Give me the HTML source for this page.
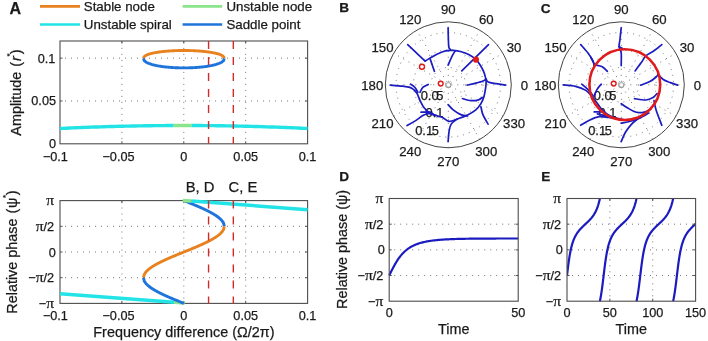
<!DOCTYPE html>
<html><head><meta charset="utf-8"><style>
html,body{margin:0;padding:0;background:#fff;width:708px;height:341px;overflow:hidden;}
svg{display:block;will-change:transform;}
text{fill:#1a1a1a;stroke:#1a1a1a;stroke-width:0.25px;}
</style></head><body>
<svg width="708" height="341" viewBox="0 0 708 341"><line x1="121.9" y1="143.8" x2="121.9" y2="41" stroke="#666666" stroke-width="0.9" stroke-dasharray="1 5" stroke-dashoffset="1.1"/>
<line x1="183.8" y1="143.8" x2="183.8" y2="41" stroke="#666666" stroke-width="0.9" stroke-dasharray="1 5" stroke-dashoffset="1.1"/>
<line x1="245.7" y1="143.8" x2="245.7" y2="41" stroke="#666666" stroke-width="0.9" stroke-dasharray="1 5" stroke-dashoffset="1.1"/>
<line x1="60" y1="100.97" x2="307.6" y2="100.97" stroke="#666666" stroke-width="0.9" stroke-dasharray="1 5" stroke-dashoffset="1"/>
<line x1="60" y1="58.13" x2="307.6" y2="58.13" stroke="#666666" stroke-width="0.9" stroke-dasharray="1 5" stroke-dashoffset="1"/>
<line x1="121.9" y1="303.4" x2="121.9" y2="200.6" stroke="#666666" stroke-width="0.9" stroke-dasharray="1 5" stroke-dashoffset="1.1"/>
<line x1="183.8" y1="303.4" x2="183.8" y2="200.6" stroke="#666666" stroke-width="0.9" stroke-dasharray="1 5" stroke-dashoffset="1.1"/>
<line x1="245.7" y1="303.4" x2="245.7" y2="200.6" stroke="#666666" stroke-width="0.9" stroke-dasharray="1 5" stroke-dashoffset="1.1"/>
<line x1="60" y1="277.7" x2="307.6" y2="277.7" stroke="#666666" stroke-width="0.9" stroke-dasharray="1 5" stroke-dashoffset="1"/>
<line x1="60" y1="252" x2="307.6" y2="252" stroke="#666666" stroke-width="0.9" stroke-dasharray="1 5" stroke-dashoffset="1"/>
<line x1="60" y1="226.3" x2="307.6" y2="226.3" stroke="#666666" stroke-width="0.9" stroke-dasharray="1 5" stroke-dashoffset="1"/>
<rect x="60" y="41" width="247.6" height="102.8" fill="none" stroke="#4d4d4d" stroke-width="1.1"/>
<line x1="121.9" y1="143.8" x2="121.9" y2="141.3" stroke="#4d4d4d" stroke-width="1"/>
<line x1="121.9" y1="41" x2="121.9" y2="43.5" stroke="#4d4d4d" stroke-width="1"/>
<line x1="183.8" y1="143.8" x2="183.8" y2="141.3" stroke="#4d4d4d" stroke-width="1"/>
<line x1="183.8" y1="41" x2="183.8" y2="43.5" stroke="#4d4d4d" stroke-width="1"/>
<line x1="245.7" y1="143.8" x2="245.7" y2="141.3" stroke="#4d4d4d" stroke-width="1"/>
<line x1="245.7" y1="41" x2="245.7" y2="43.5" stroke="#4d4d4d" stroke-width="1"/>
<line x1="60" y1="100.97" x2="62.5" y2="100.97" stroke="#4d4d4d" stroke-width="1"/>
<line x1="307.6" y1="100.97" x2="305.1" y2="100.97" stroke="#4d4d4d" stroke-width="1"/>
<line x1="60" y1="58.13" x2="62.5" y2="58.13" stroke="#4d4d4d" stroke-width="1"/>
<line x1="307.6" y1="58.13" x2="305.1" y2="58.13" stroke="#4d4d4d" stroke-width="1"/>
<rect x="60" y="200.6" width="247.6" height="102.8" fill="none" stroke="#4d4d4d" stroke-width="1.1"/>
<line x1="121.9" y1="303.4" x2="121.9" y2="300.9" stroke="#4d4d4d" stroke-width="1"/>
<line x1="121.9" y1="200.6" x2="121.9" y2="203.1" stroke="#4d4d4d" stroke-width="1"/>
<line x1="183.8" y1="303.4" x2="183.8" y2="300.9" stroke="#4d4d4d" stroke-width="1"/>
<line x1="183.8" y1="200.6" x2="183.8" y2="203.1" stroke="#4d4d4d" stroke-width="1"/>
<line x1="245.7" y1="303.4" x2="245.7" y2="300.9" stroke="#4d4d4d" stroke-width="1"/>
<line x1="245.7" y1="200.6" x2="245.7" y2="203.1" stroke="#4d4d4d" stroke-width="1"/>
<line x1="60" y1="277.7" x2="62.5" y2="277.7" stroke="#4d4d4d" stroke-width="1"/>
<line x1="307.6" y1="277.7" x2="305.1" y2="277.7" stroke="#4d4d4d" stroke-width="1"/>
<line x1="60" y1="252" x2="62.5" y2="252" stroke="#4d4d4d" stroke-width="1"/>
<line x1="307.6" y1="252" x2="305.1" y2="252" stroke="#4d4d4d" stroke-width="1"/>
<line x1="60" y1="226.3" x2="62.5" y2="226.3" stroke="#4d4d4d" stroke-width="1"/>
<line x1="307.6" y1="226.3" x2="305.1" y2="226.3" stroke="#4d4d4d" stroke-width="1"/>
<path d="M60 128.5 L63.13 128.35 L66.27 128.2 L69.4 128.06 L72.54 127.92 L75.67 127.79 L78.81 127.66 L81.94 127.53 L85.07 127.41 L88.21 127.29 L91.34 127.17 L94.48 127.06 L97.61 126.95 L100.74 126.85 L103.88 126.75 L107.01 126.65 L110.15 126.56 L113.28 126.47 L116.42 126.39 L119.55 126.31 L122.68 126.23 L125.82 126.16 L128.95 126.09 L132.09 126.02 L135.22 125.96 L138.35 125.9 L141.49 125.85 L144.62 125.8 L147.76 125.75 L150.89 125.71 L154.03 125.67 L157.16 125.64 L160.29 125.61 L163.43 125.58 L166.56 125.56 L169.7 125.54 L172.83 125.52 L173.7 125.52" fill="none" stroke="#22e4e6" stroke-width="3.4" stroke-linejoin="round" stroke-linecap="butt"/>
<path d="M191.3 125.51 L191.64 125.51 L194.77 125.52 L197.9 125.54 L201.04 125.56 L204.17 125.58 L207.31 125.61 L210.44 125.64 L213.57 125.67 L216.71 125.71 L219.84 125.75 L222.98 125.8 L226.11 125.85 L229.25 125.9 L232.38 125.96 L235.51 126.02 L238.65 126.09 L241.78 126.16 L244.92 126.23 L248.05 126.31 L251.18 126.39 L254.32 126.47 L257.45 126.56 L260.59 126.65 L263.72 126.75 L266.86 126.85 L269.99 126.95 L273.12 127.06 L276.26 127.17 L279.39 127.29 L282.53 127.41 L285.66 127.53 L288.79 127.66 L291.93 127.79 L295.06 127.92 L298.2 128.06 L301.33 128.2 L304.47 128.35 L307.6 128.5" fill="none" stroke="#22e4e6" stroke-width="3.4" stroke-linejoin="round" stroke-linecap="butt"/>
<path d="M173.7 125.52 L175.66 125.51 L177.61 125.51 L179.57 125.5 L181.52 125.5 L183.48 125.5 L185.43 125.5 L187.39 125.5 L189.34 125.51 L191.3 125.51" fill="none" stroke="#8be58b" stroke-width="3.4" stroke-linejoin="round" stroke-linecap="butt"/>
<path d="M143.5 58.4 L144.17 56.7 L144.85 56.08 L145.52 55.63 L146.19 55.26 L146.87 54.94 L147.54 54.66 L148.21 54.41 L148.89 54.17 L149.56 53.96 L150.23 53.77 L150.91 53.58 L151.58 53.41 L152.25 53.25 L152.93 53.1 L153.6 52.95 L154.27 52.82 L154.95 52.69 L155.62 52.57 L156.29 52.45 L156.97 52.34 L157.64 52.23 L158.31 52.13 L158.99 52.03 L159.66 51.94 L160.33 51.85 L161.01 51.76 L161.68 51.68 L162.35 51.6 L163.03 51.53 L163.7 51.46 L164.37 51.39 L165.05 51.33 L165.72 51.26 L166.39 51.21 L167.07 51.15 L167.74 51.1 L168.41 51.05 L169.09 51 L169.76 50.95 L170.43 50.91 L171.11 50.87 L171.78 50.83 L172.45 50.79 L173.13 50.76 L173.8 50.73 L174.47 50.7 L175.15 50.67 L175.82 50.64 L176.49 50.62 L177.17 50.6 L177.84 50.58 L178.51 50.56 L179.19 50.55 L179.86 50.54 L180.53 50.52 L181.21 50.52 L181.88 50.51 L182.55 50.5 L183.23 50.5 L183.9 50.5 L184.57 50.5 L185.25 50.5 L185.92 50.51 L186.59 50.52 L187.27 50.52 L187.94 50.54 L188.61 50.55 L189.29 50.56 L189.96 50.58 L190.63 50.6 L191.31 50.62 L191.98 50.64 L192.65 50.67 L193.33 50.7 L194 50.73 L194.67 50.76 L195.35 50.79 L196.02 50.83 L196.69 50.87 L197.37 50.91 L198.04 50.95 L198.71 51 L199.39 51.05 L200.06 51.1 L200.73 51.15 L201.41 51.21 L202.08 51.26 L202.75 51.33 L203.43 51.39 L204.1 51.46 L204.77 51.53 L205.45 51.6 L206.12 51.68 L206.79 51.76 L207.47 51.85 L208.14 51.94 L208.81 52.03 L209.49 52.13 L210.16 52.23 L210.83 52.34 L211.51 52.45 L212.18 52.57 L212.85 52.69 L213.53 52.82 L214.2 52.95 L214.87 53.1 L215.55 53.25 L216.22 53.41 L216.89 53.58 L217.57 53.77 L218.24 53.96 L218.91 54.17 L219.59 54.41 L220.26 54.66 L220.93 54.94 L221.61 55.26 L222.28 55.63 L222.95 56.08 L223.63 56.7 L224.3 58.4" fill="none" stroke="#e8821e" stroke-width="2.9" stroke-linejoin="round" stroke-linecap="butt"/>
<path d="M143.5 58.4 L144.17 60.45 L144.85 61.19 L145.52 61.73 L146.19 62.18 L146.87 62.56 L147.54 62.9 L148.21 63.2 L148.89 63.48 L149.56 63.74 L150.23 63.97 L150.91 64.19 L151.58 64.4 L152.25 64.59 L152.93 64.78 L153.6 64.95 L154.27 65.11 L154.95 65.27 L155.62 65.42 L156.29 65.56 L156.97 65.69 L157.64 65.82 L158.31 65.94 L158.99 66.06 L159.66 66.17 L160.33 66.28 L161.01 66.38 L161.68 66.48 L162.35 66.57 L163.03 66.66 L163.7 66.75 L164.37 66.83 L165.05 66.91 L165.72 66.98 L166.39 67.05 L167.07 67.12 L167.74 67.18 L168.41 67.24 L169.09 67.3 L169.76 67.36 L170.43 67.41 L171.11 67.46 L171.78 67.51 L172.45 67.55 L173.13 67.59 L173.8 67.63 L174.47 67.66 L175.15 67.7 L175.82 67.73 L176.49 67.75 L177.17 67.78 L177.84 67.8 L178.51 67.82 L179.19 67.84 L179.86 67.86 L180.53 67.87 L181.21 67.88 L181.88 67.89 L182.55 67.9 L183.23 67.9 L183.9 67.9 L184.57 67.9 L185.25 67.9 L185.92 67.89 L186.59 67.88 L187.27 67.87 L187.94 67.86 L188.61 67.84 L189.29 67.82 L189.96 67.8 L190.63 67.78 L191.31 67.75 L191.98 67.73 L192.65 67.7 L193.33 67.66 L194 67.63 L194.67 67.59 L195.35 67.55 L196.02 67.51 L196.69 67.46 L197.37 67.41 L198.04 67.36 L198.71 67.3 L199.39 67.24 L200.06 67.18 L200.73 67.12 L201.41 67.05 L202.08 66.98 L202.75 66.91 L203.43 66.83 L204.1 66.75 L204.77 66.66 L205.45 66.57 L206.12 66.48 L206.79 66.38 L207.47 66.28 L208.14 66.17 L208.81 66.06 L209.49 65.94 L210.16 65.82 L210.83 65.69 L211.51 65.56 L212.18 65.42 L212.85 65.27 L213.53 65.11 L214.2 64.95 L214.87 64.78 L215.55 64.59 L216.22 64.4 L216.89 64.19 L217.57 63.97 L218.24 63.74 L218.91 63.48 L219.59 63.2 L220.26 62.9 L220.93 62.56 L221.61 62.18 L222.28 61.73 L222.95 61.19 L223.63 60.45 L224.3 58.4" fill="none" stroke="#1f74dc" stroke-width="2.9" stroke-linejoin="round" stroke-linecap="butt"/>
<path d="M183.9 200.6 L184.57 200.87 L185.25 201.15 L185.92 201.42 L186.59 201.69 L187.27 201.97 L187.94 202.24 L188.61 202.51 L189.29 202.79 L189.96 203.06 L190.63 203.34 L191.31 203.62 L191.98 203.89 L192.65 204.17 L193.33 204.45 L194 204.73 L194.67 205.02 L195.35 205.3 L196.02 205.59 L196.69 205.87 L197.37 206.16 L198.04 206.45 L198.71 206.74 L199.39 207.04 L200.06 207.33 L200.73 207.63 L201.41 207.93 L202.08 208.24 L202.75 208.54 L203.43 208.85 L204.1 209.17 L204.77 209.48 L205.45 209.8 L206.12 210.13 L206.79 210.46 L207.47 210.79 L208.14 211.13 L208.81 211.47 L209.49 211.82 L210.16 212.18 L210.83 212.54 L211.51 212.91 L212.18 213.29 L212.85 213.67 L213.53 214.07 L214.2 214.48 L214.87 214.89 L215.55 215.33 L216.22 215.77 L216.89 216.23 L217.57 216.72 L218.24 217.22 L218.91 217.75 L219.59 218.32 L220.26 218.92 L220.93 219.57 L221.61 220.29 L222.28 221.1 L222.95 222.06 L223.63 223.31 L224.3 226.3" fill="none" stroke="#1f74dc" stroke-width="2.9" stroke-linejoin="round" stroke-linecap="butt"/>
<path d="M60 293.8 L174.1 302.3" fill="none" stroke="#22e4e6" stroke-width="3.5" stroke-linejoin="round" stroke-linecap="butt"/>
<path d="M191.3 201 L307.6 209.7" fill="none" stroke="#22e4e6" stroke-width="3.5" stroke-linejoin="round" stroke-linecap="butt"/>
<path d="M174.1 302.3 L184.6 302.9" fill="none" stroke="#8be58b" stroke-width="3.5" stroke-linejoin="round" stroke-linecap="butt"/>
<path d="M182.8 200.6 L191.3 201" fill="none" stroke="#8be58b" stroke-width="3.5" stroke-linejoin="round" stroke-linecap="butt"/>
<path d="M143.5 277.7 L144.17 274.71 L144.85 273.46 L145.52 272.5 L146.19 271.69 L146.87 270.97 L147.54 270.32 L148.21 269.72 L148.89 269.15 L149.56 268.62 L150.23 268.12 L150.91 267.63 L151.58 267.17 L152.25 266.73 L152.93 266.29 L153.6 265.88 L154.27 265.47 L154.95 265.07 L155.62 264.69 L156.29 264.31 L156.97 263.94 L157.64 263.58 L158.31 263.22 L158.99 262.87 L159.66 262.53 L160.33 262.19 L161.01 261.86 L161.68 261.53 L162.35 261.2 L163.03 260.88 L163.7 260.57 L164.37 260.25 L165.05 259.94 L165.72 259.64 L166.39 259.33 L167.07 259.03 L167.74 258.73 L168.41 258.44 L169.09 258.14 L169.76 257.85 L170.43 257.56 L171.11 257.27 L171.78 256.99 L172.45 256.7 L173.13 256.42 L173.8 256.13 L174.47 255.85 L175.15 255.57 L175.82 255.29 L176.49 255.02 L177.17 254.74 L177.84 254.46 L178.51 254.19 L179.19 253.91 L179.86 253.64 L180.53 253.37 L181.21 253.09 L181.88 252.82 L182.55 252.55 L183.23 252.27 L183.9 252 L184.57 251.73 L185.25 251.45 L185.92 251.18 L186.59 250.91 L187.27 250.63 L187.94 250.36 L188.61 250.09 L189.29 249.81 L189.96 249.54 L190.63 249.26 L191.31 248.98 L191.98 248.71 L192.65 248.43 L193.33 248.15 L194 247.87 L194.67 247.58 L195.35 247.3 L196.02 247.01 L196.69 246.73 L197.37 246.44 L198.04 246.15 L198.71 245.86 L199.39 245.56 L200.06 245.27 L200.73 244.97 L201.41 244.67 L202.08 244.36 L202.75 244.06 L203.43 243.75 L204.1 243.43 L204.77 243.12 L205.45 242.8 L206.12 242.47 L206.79 242.14 L207.47 241.81 L208.14 241.47 L208.81 241.13 L209.49 240.78 L210.16 240.42 L210.83 240.06 L211.51 239.69 L212.18 239.31 L212.85 238.93 L213.53 238.53 L214.2 238.12 L214.87 237.71 L215.55 237.27 L216.22 236.83 L216.89 236.37 L217.57 235.88 L218.24 235.38 L218.91 234.85 L219.59 234.28 L220.26 233.68 L220.93 233.03 L221.61 232.31 L222.28 231.5 L222.95 230.54 L223.63 229.29 L224.3 226.3" fill="none" stroke="#e8821e" stroke-width="2.9" stroke-linejoin="round" stroke-linecap="butt"/>
<path d="M143.5 277.7 L144.17 280.69 L144.85 281.94 L145.52 282.9 L146.19 283.71 L146.87 284.43 L147.54 285.08 L148.21 285.68 L148.89 286.25 L149.56 286.78 L150.23 287.28 L150.91 287.77 L151.58 288.23 L152.25 288.67 L152.93 289.11 L153.6 289.52 L154.27 289.93 L154.95 290.33 L155.62 290.71 L156.29 291.09 L156.97 291.46 L157.64 291.82 L158.31 292.18 L158.99 292.53 L159.66 292.87 L160.33 293.21 L161.01 293.54 L161.68 293.87 L162.35 294.2 L163.03 294.52 L163.7 294.83 L164.37 295.15 L165.05 295.46 L165.72 295.76 L166.39 296.07 L167.07 296.37 L167.74 296.67 L168.41 296.96 L169.09 297.26 L169.76 297.55 L170.43 297.84 L171.11 298.13 L171.78 298.41 L172.45 298.7 L173.13 298.98 L173.8 299.27 L174.47 299.55 L175.15 299.83 L175.82 300.11 L176.49 300.38 L177.17 300.66 L177.84 300.94 L178.51 301.21 L179.19 301.49 L179.86 301.76 L180.53 302.03 L181.21 302.31 L181.88 302.58 L182.55 302.85 L183.23 303.13 L183.9 303.4" fill="none" stroke="#1f74dc" stroke-width="2.9" stroke-linejoin="round" stroke-linecap="butt"/>
<line x1="208.56" y1="41" x2="208.56" y2="143.8" stroke="#d42a2a" stroke-width="1.4" stroke-dasharray="8 8"/>
<line x1="208.56" y1="200.6" x2="208.56" y2="303.4" stroke="#d42a2a" stroke-width="1.4" stroke-dasharray="8 8"/>
<line x1="233.32" y1="41" x2="233.32" y2="143.8" stroke="#d42a2a" stroke-width="1.4" stroke-dasharray="8 8"/>
<line x1="233.32" y1="200.6" x2="233.32" y2="303.4" stroke="#d42a2a" stroke-width="1.4" stroke-dasharray="8 8"/>
<text x="55.4" y="160.5" font-size="12.7" text-anchor="middle" font-weight="normal" font-family='"Liberation Sans", sans-serif' >&#8722;0.1</text>
<text x="55.4" y="319.8" font-size="12.7" text-anchor="middle" font-weight="normal" font-family='"Liberation Sans", sans-serif' >&#8722;0.1</text>
<text x="118.5" y="160.5" font-size="12.7" text-anchor="middle" font-weight="normal" font-family='"Liberation Sans", sans-serif' >&#8722;0.05</text>
<text x="118.5" y="319.8" font-size="12.7" text-anchor="middle" font-weight="normal" font-family='"Liberation Sans", sans-serif' >&#8722;0.05</text>
<text x="183.8" y="160.5" font-size="12.7" text-anchor="middle" font-weight="normal" font-family='"Liberation Sans", sans-serif' >0</text>
<text x="183.8" y="319.8" font-size="12.7" text-anchor="middle" font-weight="normal" font-family='"Liberation Sans", sans-serif' >0</text>
<text x="245.7" y="160.5" font-size="12.7" text-anchor="middle" font-weight="normal" font-family='"Liberation Sans", sans-serif' >0.05</text>
<text x="245.7" y="319.8" font-size="12.7" text-anchor="middle" font-weight="normal" font-family='"Liberation Sans", sans-serif' >0.05</text>
<text x="307.6" y="160.5" font-size="12.7" text-anchor="middle" font-weight="normal" font-family='"Liberation Sans", sans-serif' >0.1</text>
<text x="307.6" y="319.8" font-size="12.7" text-anchor="middle" font-weight="normal" font-family='"Liberation Sans", sans-serif' >0.1</text>
<text x="55.4" y="62.63" font-size="12.7" text-anchor="end" font-weight="normal" font-family='"Liberation Sans", sans-serif' >0.1</text>
<text x="56" y="105.47" font-size="12.7" text-anchor="end" font-weight="normal" font-family='"Liberation Sans", sans-serif' >0.05</text>
<text x="56" y="148.3" font-size="12.7" text-anchor="end" font-weight="normal" font-family='"Liberation Sans", sans-serif' >0</text>
<text x="54.1" y="205.1" font-size="12.7" text-anchor="end" font-family='"Liberation Sans", sans-serif'><tspan font-family='"Liberation Serif", serif' font-size="15.5">&#960;</tspan></text>
<text x="54.1" y="230.8" font-size="12.7" text-anchor="end" font-family='"Liberation Sans", sans-serif'><tspan font-family='"Liberation Serif", serif' font-size="15.5">&#960;</tspan>/2</text>
<text x="55.7" y="256.5" font-size="12.7" text-anchor="end" font-family='"Liberation Sans", sans-serif'>0</text>
<text x="54.1" y="282.2" font-size="12.7" text-anchor="end" font-family='"Liberation Sans", sans-serif'>&#8722;<tspan font-family='"Liberation Serif", serif' font-size="15.5">&#960;</tspan>/2</text>
<text x="54.1" y="307.9" font-size="12.7" text-anchor="end" font-family='"Liberation Sans", sans-serif'>&#8722;<tspan font-family='"Liberation Serif", serif' font-size="15.5">&#960;</tspan></text>
<text x="183.9" y="336.5" font-size="14.4" text-anchor="middle" font-weight="normal" font-family='"Liberation Sans", sans-serif' >Frequency difference (&#937;/2&#960;)</text>
<text transform="translate(21.2,92.6) rotate(-90)" font-size="14.4" text-anchor="middle" font-family='"Liberation Sans", sans-serif'>Amplitude <tspan dx="1">(</tspan><tspan dx="0.8" font-style="italic">r</tspan><tspan dy="-9" dx="-0.3" font-size="8">*</tspan><tspan dy="9" dx="-0.8">)</tspan></text>
<text transform="translate(17.1,252.1) rotate(-90)" font-size="14.4" text-anchor="middle" font-family='"Liberation Sans", sans-serif'>Relative phase <tspan dx="1">(</tspan><tspan dx="0.8">&#968;</tspan><tspan dy="-9" dx="-0.3" font-size="8">*</tspan><tspan dy="9" dx="-0.5">)</tspan></text>
<text x="185.7" y="191.6" font-size="14.8" text-anchor="start" font-weight="normal" font-family='"Liberation Sans", sans-serif' >B, D</text>
<text x="228.5" y="191.6" font-size="14.8" text-anchor="start" font-weight="normal" font-family='"Liberation Sans", sans-serif' >C, E</text>
<path d="M40 6.3 L80 6.3" fill="none" stroke="#e8821e" stroke-width="2.7" stroke-linejoin="round" stroke-linecap="butt"/>
<path d="M40 24.5 L80 24.5" fill="none" stroke="#22e4e6" stroke-width="2.7" stroke-linejoin="round" stroke-linecap="butt"/>
<text x="83.8" y="10.7" font-size="13.3" text-anchor="start" font-weight="normal" font-family='"Liberation Sans", sans-serif' >Stable node</text>
<text x="83.8" y="29" font-size="13.3" text-anchor="start" font-weight="normal" font-family='"Liberation Sans", sans-serif' >Unstable spiral</text>
<path d="M182.6 6.3 L222.2 6.3" fill="none" stroke="#8be58b" stroke-width="2.7" stroke-linejoin="round" stroke-linecap="butt"/>
<path d="M182.6 24.5 L222.2 24.5" fill="none" stroke="#1f74dc" stroke-width="2.7" stroke-linejoin="round" stroke-linecap="butt"/>
<text x="226.4" y="10.7" font-size="13.3" text-anchor="start" font-weight="normal" font-family='"Liberation Sans", sans-serif' >Unstable node</text>
<text x="226.4" y="29" font-size="13.3" text-anchor="start" font-weight="normal" font-family='"Liberation Sans", sans-serif' >Saddle point</text>
<text x="9.5" y="13.8" font-size="16" text-anchor="start" font-weight="bold" font-family='"Liberation Sans", sans-serif' >A</text>
<text x="339.3" y="12.4" font-size="13.6" text-anchor="start" font-weight="bold" font-family='"Liberation Sans", sans-serif' >B</text>
<text x="540.8" y="12.6" font-size="13.6" text-anchor="start" font-weight="bold" font-family='"Liberation Sans", sans-serif' >C</text>
<text x="339.3" y="181" font-size="13.6" text-anchor="start" font-weight="bold" font-family='"Liberation Sans", sans-serif' >D</text>
<text x="541.3" y="181.2" font-size="13.6" text-anchor="start" font-weight="bold" font-family='"Liberation Sans", sans-serif' >E</text>
<circle cx="448.3" cy="84.8" r="17.4" fill="none" stroke="#666666" stroke-width="0.9" stroke-dasharray="1 5"/>
<circle cx="448.3" cy="84.8" r="34.9" fill="none" stroke="#666666" stroke-width="0.9" stroke-dasharray="1 5"/>
<circle cx="448.3" cy="84.8" r="52.3" fill="none" stroke="#666666" stroke-width="0.9" stroke-dasharray="1 5"/>
<line x1="385.3" y1="84.8" x2="511.3" y2="84.8" stroke="#666666" stroke-width="0.9" stroke-dasharray="1 5"/>
<line x1="393.74" y1="116.3" x2="502.86" y2="53.3" stroke="#666666" stroke-width="0.9" stroke-dasharray="1 5"/>
<line x1="416.8" y1="139.36" x2="479.8" y2="30.24" stroke="#666666" stroke-width="0.9" stroke-dasharray="1 5"/>
<line x1="448.3" y1="147.8" x2="448.3" y2="21.8" stroke="#666666" stroke-width="0.9" stroke-dasharray="1 5"/>
<line x1="479.8" y1="139.36" x2="416.8" y2="30.24" stroke="#666666" stroke-width="0.9" stroke-dasharray="1 5"/>
<line x1="502.86" y1="116.3" x2="393.74" y2="53.3" stroke="#666666" stroke-width="0.9" stroke-dasharray="1 5"/>
<text x="443.5" y="100" font-size="12.9" text-anchor="end" font-weight="normal" font-family='"Liberation Sans", sans-serif' >0.0<tspan dx="-2.3">5</tspan></text>
<text x="443.5" y="117.2" font-size="12.9" text-anchor="end" font-weight="normal" font-family='"Liberation Sans", sans-serif' >0.1</text>
<text x="438.8" y="134.9" font-size="12.9" text-anchor="end" font-weight="normal" font-family='"Liberation Sans", sans-serif' >0.1<tspan dx="-1.5">5</tspan></text>
<circle cx="621.3" cy="84.8" r="17.4" fill="none" stroke="#666666" stroke-width="0.9" stroke-dasharray="1 5"/>
<circle cx="621.3" cy="84.8" r="34.9" fill="none" stroke="#666666" stroke-width="0.9" stroke-dasharray="1 5"/>
<circle cx="621.3" cy="84.8" r="52.3" fill="none" stroke="#666666" stroke-width="0.9" stroke-dasharray="1 5"/>
<line x1="558.3" y1="84.8" x2="684.3" y2="84.8" stroke="#666666" stroke-width="0.9" stroke-dasharray="1 5"/>
<line x1="566.74" y1="116.3" x2="675.86" y2="53.3" stroke="#666666" stroke-width="0.9" stroke-dasharray="1 5"/>
<line x1="589.8" y1="139.36" x2="652.8" y2="30.24" stroke="#666666" stroke-width="0.9" stroke-dasharray="1 5"/>
<line x1="621.3" y1="147.8" x2="621.3" y2="21.8" stroke="#666666" stroke-width="0.9" stroke-dasharray="1 5"/>
<line x1="652.8" y1="139.36" x2="589.8" y2="30.24" stroke="#666666" stroke-width="0.9" stroke-dasharray="1 5"/>
<line x1="675.86" y1="116.3" x2="566.74" y2="53.3" stroke="#666666" stroke-width="0.9" stroke-dasharray="1 5"/>
<text x="616.5" y="100" font-size="12.9" text-anchor="end" font-weight="normal" font-family='"Liberation Sans", sans-serif' >0.0<tspan dx="-2.3">5</tspan></text>
<text x="616.5" y="117.2" font-size="12.9" text-anchor="end" font-weight="normal" font-family='"Liberation Sans", sans-serif' >0.1</text>
<text x="611.8" y="134.9" font-size="12.9" text-anchor="end" font-weight="normal" font-family='"Liberation Sans", sans-serif' >0.1<tspan dx="-1.5">5</tspan></text>
<path d="M407.7 44.6 L425.1 61.1" fill="none" stroke="#1b1bc0" stroke-width="1.7" stroke-linejoin="round" stroke-linecap="round"/>
<path d="M425.1 61.1 C425.95 60.58 428.15 59.2 430.2 58 C432.25 56.8 434.83 55.1 437.4 53.9 C439.97 52.7 442.97 51.38 445.6 50.8 C448.23 50.22 450.57 50.23 453.2 50.4 C455.83 50.57 458.67 51.05 461.4 51.8 C464.13 52.55 467.2 53.63 469.6 54.9 C472 56.17 473.92 57.52 475.8 59.4 C477.68 61.28 479.47 63.87 480.9 66.2 C482.33 68.53 483.53 70.83 484.4 73.4 C485.27 75.97 485.9 79.13 486.1 81.6 C486.3 84.07 485.95 85.73 485.6 88.2 C485.25 90.67 484.78 93.83 484 96.4 C483.22 98.97 482.27 101.37 480.9 103.6 C479.53 105.83 478.02 107.92 475.8 109.8 C473.58 111.68 470.68 113.37 467.6 114.9 C464.52 116.43 460.38 117.93 457.3 119 C454.22 120.07 451.73 121.63 449.1 121.3 C446.47 120.97 444.47 118.23 441.5 117 C438.53 115.77 434.2 115.45 431.3 113.9 C428.4 112.35 425.98 109.93 424.1 107.7 C422.22 105.47 421.2 102.9 420 100.5 C418.8 98.1 418.27 95.35 416.9 93.3 C415.53 91.25 414.2 89.38 411.8 88.2 C409.4 87.02 406.1 86.72 402.5 86.2 C398.9 85.68 392.25 85.28 390.2 85.1" fill="none" stroke="#1b1bc0" stroke-width="1.7" stroke-linejoin="round" stroke-linecap="round"/>
<path d="M430.2 59 C430.55 60.03 431.6 63.15 432.3 65.2 C433 67.25 434.05 70.28 434.4 71.3" fill="none" stroke="#1b1bc0" stroke-width="1.7" stroke-linejoin="round" stroke-linecap="round"/>
<path d="M448.1 27.8 C448.15 29.83 448.27 36.72 448.4 40 C448.53 43.28 448.55 45.92 448.9 47.5 C449.25 49.08 450.23 49.17 450.5 49.5" fill="none" stroke="#1b1bc0" stroke-width="1.7" stroke-linejoin="round" stroke-linecap="round"/>
<path d="M455.3 50.8 C454.78 51.65 453.4 53.5 452.2 55.9 C451 58.3 448.78 63.65 448.1 65.2" fill="none" stroke="#1b1bc0" stroke-width="1.7" stroke-linejoin="round" stroke-linecap="round"/>
<path d="M488.5 44.6 L461.8 70.9" fill="none" stroke="#1b1bc0" stroke-width="1.7" stroke-linejoin="round" stroke-linecap="round"/>
<path d="M467.2 85.1 C468.63 84.77 473.17 83.78 475.8 83.1 C478.43 82.42 481.28 81.68 483 81 C484.72 80.32 485.58 79.33 486.1 79" fill="none" stroke="#1b1bc0" stroke-width="1.7" stroke-linejoin="round" stroke-linecap="round"/>
<path d="M486.1 79 C486.43 79.5 486.4 81.22 488.1 82 C489.8 82.78 493.38 83.18 496.3 83.7 C499.22 84.22 504.05 84.87 505.6 85.1" fill="none" stroke="#1b1bc0" stroke-width="1.7" stroke-linejoin="round" stroke-linecap="round"/>
<path d="M462.5 98.5 C463.68 98.83 467.05 100.23 469.6 100.5 C472.15 100.77 475.65 100.6 477.8 100.1 C479.95 99.6 481.72 97.93 482.5 97.5" fill="none" stroke="#1b1bc0" stroke-width="1.7" stroke-linejoin="round" stroke-linecap="round"/>
<path d="M448.1 104.6 C448.95 105.47 450.98 108.08 453.2 109.8 C455.42 111.52 459 113.87 461.4 114.9 C463.8 115.93 466.57 115.82 467.6 116" fill="none" stroke="#1b1bc0" stroke-width="1.7" stroke-linejoin="round" stroke-linecap="round"/>
<path d="M480.9 106.7 C481.25 108.07 481.8 112 483 114.9 C484.2 117.8 487.25 122.57 488.1 124.1" fill="none" stroke="#1b1bc0" stroke-width="1.7" stroke-linejoin="round" stroke-linecap="round"/>
<path d="M457.3 119 C456.28 119.85 452.57 122.05 451.2 124.1 C449.83 126.15 449.62 128.38 449.1 131.3 C448.58 134.22 448.27 139.88 448.1 141.6" fill="none" stroke="#1b1bc0" stroke-width="1.7" stroke-linejoin="round" stroke-linecap="round"/>
<path d="M410.7 84.1 C411.38 84.62 413.6 85.83 414.8 87.2 C416 88.57 417.38 91.45 417.9 92.3" fill="none" stroke="#1b1bc0" stroke-width="1.7" stroke-linejoin="round" stroke-linecap="round"/>
<path d="M428.2 84.5 C427.35 84.95 424.47 85.9 423.1 87.2 C421.73 88.5 420.52 91.45 420 92.3" fill="none" stroke="#1b1bc0" stroke-width="1.7" stroke-linejoin="round" stroke-linecap="round"/>
<path d="M407 125.6 C408.3 124.85 412.08 122.82 414.8 121.1 C417.52 119.38 421.1 116.55 423.3 115.3 C425.5 114.05 426.38 113.85 428 113.6 C429.62 113.35 432.17 113.77 433 113.8" fill="none" stroke="#1b1bc0" stroke-width="1.7" stroke-linejoin="round" stroke-linecap="round"/>
<path d="M421 112.2 L430.5 112.2" fill="none" stroke="#1b1bc0" stroke-width="1.7" stroke-linejoin="round" stroke-linecap="round"/>
<path d="M426 110.8 C426.83 111.25 429.33 112.73 431 113.5 C432.67 114.27 435.17 115.08 436 115.4" fill="none" stroke="#1b1bc0" stroke-width="1.7" stroke-linejoin="round" stroke-linecap="round"/>
<path d="M580.7 44.6 C581.88 45.97 585.75 50.05 587.8 52.8 C589.85 55.55 591.9 58.87 593 61.1 C594.1 63.33 594.17 65.35 594.4 66.2" fill="none" stroke="#1b1bc0" stroke-width="1.7" stroke-linejoin="round" stroke-linecap="round"/>
<path d="M590.9 57.5 C591.33 58.33 592.92 61.05 593.5 62.5 C594.08 63.95 594.25 65.58 594.4 66.2" fill="none" stroke="#1b1bc0" stroke-width="1.7" stroke-linejoin="round" stroke-linecap="round"/>
<path d="M596.1 65.2 C597.12 65.47 600.32 65.78 602.2 66.8 C604.08 67.82 606.53 70.55 607.4 71.3" fill="none" stroke="#1b1bc0" stroke-width="1.7" stroke-linejoin="round" stroke-linecap="round"/>
<path d="M621.2 27.8 C620.98 29.83 620.25 36.85 619.9 40 C619.55 43.15 618.88 44.57 619.1 46.7 C619.32 48.83 620.85 49.65 621.2 52.8 C621.55 55.95 621.2 63.47 621.2 65.6" fill="none" stroke="#1b1bc0" stroke-width="1.7" stroke-linejoin="round" stroke-linecap="round"/>
<path d="M619.1 46.7 L622.5 48.5" fill="none" stroke="#1b1bc0" stroke-width="1.7" stroke-linejoin="round" stroke-linecap="round"/>
<path d="M661.8 44.6 C660.5 45.63 656.67 48.92 654 50.8 C651.33 52.68 647.85 54.02 645.8 55.9 C643.75 57.78 643.48 59.6 641.7 62.1 C639.92 64.6 636.2 69.43 635.1 70.9" fill="none" stroke="#1b1bc0" stroke-width="1.7" stroke-linejoin="round" stroke-linecap="round"/>
<path d="M640.7 85.1 C642.23 84.52 647.33 82.95 649.9 81.6 C652.47 80.25 654.73 78.2 656.1 77 C657.47 75.8 657.77 74.83 658.1 74.4" fill="none" stroke="#1b1bc0" stroke-width="1.7" stroke-linejoin="round" stroke-linecap="round"/>
<path d="M658.1 74.4 C658.95 75.25 661.15 78.13 663.2 79.5 C665.25 80.87 668 81.67 670.4 82.6 C672.8 83.53 676.4 84.68 677.6 85.1" fill="none" stroke="#1b1bc0" stroke-width="1.7" stroke-linejoin="round" stroke-linecap="round"/>
<path d="M634.5 98.6 C636.38 98.83 642.72 100.17 645.8 100 C648.88 99.83 651.12 98.68 653 97.6 C654.88 96.52 656.42 94.18 657.1 93.5" fill="none" stroke="#1b1bc0" stroke-width="1.7" stroke-linejoin="round" stroke-linecap="round"/>
<path d="M621.2 103.7 C622.22 104.38 624.92 106.42 627.3 107.8 C629.68 109.18 632.77 111.23 635.5 112 C638.23 112.77 641.13 112.92 643.7 112.4 C646.27 111.88 649.7 109.48 650.9 108.9" fill="none" stroke="#1b1bc0" stroke-width="1.7" stroke-linejoin="round" stroke-linecap="round"/>
<path d="M654 100.7 C654.35 102.23 654.8 105.8 656.1 109.9 C657.4 114 660.85 122.73 661.8 125.3" fill="none" stroke="#1b1bc0" stroke-width="1.7" stroke-linejoin="round" stroke-linecap="round"/>
<path d="M621.2 123.2 C622.73 122.87 627.33 122.05 630.4 121.2 C633.47 120.35 636.52 119.47 639.6 118.1 C642.68 116.73 647.35 113.85 648.9 113" fill="none" stroke="#1b1bc0" stroke-width="1.7" stroke-linejoin="round" stroke-linecap="round"/>
<path d="M621.2 141.7 C621.88 140.17 623.6 135.4 625.3 132.5 C627 129.6 629.35 126.53 631.4 124.3 C633.45 122.07 636.57 119.97 637.6 119.1" fill="none" stroke="#1b1bc0" stroke-width="1.7" stroke-linejoin="round" stroke-linecap="round"/>
<path d="M563.2 84.9 C565.25 85.13 571.73 85.38 575.5 86.3 C579.27 87.22 583.05 88.68 585.8 90.4 C588.55 92.12 590.28 94.72 592 96.6 C593.72 98.48 594.4 99.48 596.1 101.7 C597.8 103.92 599.82 107.5 602.2 109.9 C604.58 112.3 607.32 114.57 610.4 116.1 C613.48 117.63 618.1 118.42 620.7 119.1 C623.3 119.78 625.12 120.02 626 120.2" fill="none" stroke="#1b1bc0" stroke-width="1.7" stroke-linejoin="round" stroke-linecap="round"/>
<path d="M581.7 84.2 C582.72 85.07 585.92 87.52 587.8 89.4 C589.68 91.28 592.13 94.48 593 95.5" fill="none" stroke="#1b1bc0" stroke-width="1.7" stroke-linejoin="round" stroke-linecap="round"/>
<path d="M601.2 84.2 C600.52 85.07 598.3 87.33 597.1 89.4 C595.9 91.47 594.52 95.4 594 96.6" fill="none" stroke="#1b1bc0" stroke-width="1.7" stroke-linejoin="round" stroke-linecap="round"/>
<path d="M580.7 125.3 C582.07 124.52 585.85 122.03 588.9 120.6 C591.95 119.17 595.75 117.23 599 116.7 C602.25 116.17 605.47 117.08 608.4 117.4 C611.33 117.72 615.23 118.4 616.6 118.6" fill="none" stroke="#1b1bc0" stroke-width="1.7" stroke-linejoin="round" stroke-linecap="round"/>
<path d="M594.2 111.9 L601.5 111.9" fill="none" stroke="#1b1bc0" stroke-width="1.7" stroke-linejoin="round" stroke-linecap="round"/>
<path d="M597.3 113.8 L605.8 115.9" fill="none" stroke="#1b1bc0" stroke-width="1.7" stroke-linejoin="round" stroke-linecap="round"/>
<circle cx="624.8" cy="84.6" r="35.4" fill="none" stroke="#e01b1b" stroke-width="2.6"/>
<circle cx="448.3" cy="85.2" r="2.6" fill="none" stroke="#9a9a9a" stroke-width="1"/>
<circle cx="440.7" cy="83.6" r="2.4" fill="none" stroke="#e01b1b" stroke-width="1.4"/>
<circle cx="621.3" cy="85.2" r="2.6" fill="none" stroke="#9a9a9a" stroke-width="1"/>
<circle cx="613.7" cy="83.6" r="2.4" fill="none" stroke="#e01b1b" stroke-width="1.4"/>
<circle cx="422" cy="66.8" r="2.5" fill="none" stroke="#e01b1b" stroke-width="1.4"/>
<circle cx="475.9" cy="59.6" r="3.1" fill="#e01b1b"/>
<circle cx="448.3" cy="84.8" r="63.0" fill="none" stroke="#444" stroke-width="1"/>
<text x="524.3" y="90.1" font-size="13.2" text-anchor="middle" font-weight="normal" font-family='"Liberation Sans", sans-serif' >0</text>
<text x="514.12" y="52.1" font-size="13.2" text-anchor="middle" font-weight="normal" font-family='"Liberation Sans", sans-serif' >30</text>
<text x="486.3" y="24.28" font-size="13.2" text-anchor="middle" font-weight="normal" font-family='"Liberation Sans", sans-serif' >60</text>
<text x="448.3" y="14.1" font-size="13.2" text-anchor="middle" font-weight="normal" font-family='"Liberation Sans", sans-serif' >90</text>
<text x="410.3" y="24.28" font-size="13.2" text-anchor="middle" font-weight="normal" font-family='"Liberation Sans", sans-serif' >120</text>
<text x="382.48" y="52.1" font-size="13.2" text-anchor="middle" font-weight="normal" font-family='"Liberation Sans", sans-serif' >150</text>
<text x="372.3" y="90.1" font-size="13.2" text-anchor="middle" font-weight="normal" font-family='"Liberation Sans", sans-serif' >180</text>
<text x="382.48" y="128.1" font-size="13.2" text-anchor="middle" font-weight="normal" font-family='"Liberation Sans", sans-serif' >210</text>
<text x="410.3" y="155.92" font-size="13.2" text-anchor="middle" font-weight="normal" font-family='"Liberation Sans", sans-serif' >240</text>
<text x="448.3" y="166.1" font-size="13.2" text-anchor="middle" font-weight="normal" font-family='"Liberation Sans", sans-serif' >270</text>
<text x="486.3" y="155.92" font-size="13.2" text-anchor="middle" font-weight="normal" font-family='"Liberation Sans", sans-serif' >300</text>
<text x="514.12" y="128.1" font-size="13.2" text-anchor="middle" font-weight="normal" font-family='"Liberation Sans", sans-serif' >330</text>
<circle cx="621.3" cy="84.8" r="63.0" fill="none" stroke="#444" stroke-width="1"/>
<text x="697.3" y="90.1" font-size="13.2" text-anchor="middle" font-weight="normal" font-family='"Liberation Sans", sans-serif' >0</text>
<text x="687.12" y="52.1" font-size="13.2" text-anchor="middle" font-weight="normal" font-family='"Liberation Sans", sans-serif' >30</text>
<text x="659.3" y="24.28" font-size="13.2" text-anchor="middle" font-weight="normal" font-family='"Liberation Sans", sans-serif' >60</text>
<text x="621.3" y="14.1" font-size="13.2" text-anchor="middle" font-weight="normal" font-family='"Liberation Sans", sans-serif' >90</text>
<text x="583.3" y="24.28" font-size="13.2" text-anchor="middle" font-weight="normal" font-family='"Liberation Sans", sans-serif' >120</text>
<text x="555.48" y="52.1" font-size="13.2" text-anchor="middle" font-weight="normal" font-family='"Liberation Sans", sans-serif' >150</text>
<text x="545.3" y="90.1" font-size="13.2" text-anchor="middle" font-weight="normal" font-family='"Liberation Sans", sans-serif' >180</text>
<text x="555.48" y="128.1" font-size="13.2" text-anchor="middle" font-weight="normal" font-family='"Liberation Sans", sans-serif' >210</text>
<text x="583.3" y="155.92" font-size="13.2" text-anchor="middle" font-weight="normal" font-family='"Liberation Sans", sans-serif' >240</text>
<text x="621.3" y="166.1" font-size="13.2" text-anchor="middle" font-weight="normal" font-family='"Liberation Sans", sans-serif' >270</text>
<text x="659.3" y="155.92" font-size="13.2" text-anchor="middle" font-weight="normal" font-family='"Liberation Sans", sans-serif' >300</text>
<text x="687.12" y="128.1" font-size="13.2" text-anchor="middle" font-weight="normal" font-family='"Liberation Sans", sans-serif' >330</text>
<line x1="389.2" y1="275.52" x2="518.2" y2="275.52" stroke="#666666" stroke-width="0.9" stroke-dasharray="1 5" stroke-dashoffset="1"/>
<line x1="389.2" y1="249.85" x2="518.2" y2="249.85" stroke="#666666" stroke-width="0.9" stroke-dasharray="1 5" stroke-dashoffset="1"/>
<line x1="389.2" y1="224.18" x2="518.2" y2="224.18" stroke="#666666" stroke-width="0.9" stroke-dasharray="1 5" stroke-dashoffset="1"/>
<line x1="609.87" y1="301.2" x2="609.87" y2="198.5" stroke="#666666" stroke-width="0.9" stroke-dasharray="1 5" stroke-dashoffset="1.1"/>
<line x1="652.73" y1="301.2" x2="652.73" y2="198.5" stroke="#666666" stroke-width="0.9" stroke-dasharray="1 5" stroke-dashoffset="1.1"/>
<line x1="567" y1="275.52" x2="695.6" y2="275.52" stroke="#666666" stroke-width="0.9" stroke-dasharray="1 5" stroke-dashoffset="1"/>
<line x1="567" y1="249.85" x2="695.6" y2="249.85" stroke="#666666" stroke-width="0.9" stroke-dasharray="1 5" stroke-dashoffset="1"/>
<line x1="567" y1="224.18" x2="695.6" y2="224.18" stroke="#666666" stroke-width="0.9" stroke-dasharray="1 5" stroke-dashoffset="1"/>
<path d="M389.2 275.52 L390.06 273.77 L390.92 272.04 L391.78 270.32 L392.64 268.64 L393.5 267.01 L394.36 265.42 L395.22 263.9 L396.08 262.44 L396.94 261.04 L397.8 259.72 L398.66 258.46 L399.52 257.27 L400.38 256.15 L401.24 255.1 L402.1 254.11 L402.96 253.18 L403.82 252.31 L404.68 251.49 L405.54 250.72 L406.4 250 L407.26 249.33 L408.12 248.7 L408.98 248.11 L409.84 247.56 L410.7 247.04 L411.56 246.55 L412.42 246.1 L413.28 245.67 L414.14 245.27 L415 244.89 L415.86 244.54 L416.72 244.2 L417.58 243.89 L418.44 243.6 L419.3 243.32 L420.16 243.06 L421.02 242.81 L421.88 242.58 L422.74 242.36 L423.6 242.15 L424.46 241.96 L425.32 241.78 L426.18 241.6 L427.04 241.44 L427.9 241.28 L428.76 241.14 L429.62 241 L430.48 240.87 L431.34 240.75 L432.2 240.63 L433.06 240.52 L433.92 240.41 L434.78 240.32 L435.64 240.22 L436.5 240.13 L437.36 240.05 L438.22 239.97 L439.08 239.89 L439.94 239.82 L440.8 239.75 L441.66 239.69 L442.52 239.63 L443.38 239.57 L444.24 239.52 L445.1 239.46 L445.96 239.41 L446.82 239.37 L447.68 239.32 L448.54 239.28 L449.4 239.24 L450.26 239.2 L451.12 239.17 L451.98 239.13 L452.84 239.1 L453.7 239.07 L454.56 239.04 L455.42 239.01 L456.28 238.98 L457.14 238.96 L458 238.94 L458.86 238.91 L459.72 238.89 L460.58 238.87 L461.44 238.85 L462.3 238.83 L463.16 238.82 L464.02 238.8 L464.88 238.78 L465.74 238.77 L466.6 238.75 L467.46 238.74 L468.32 238.73 L469.18 238.71 L470.04 238.7 L470.9 238.69 L471.76 238.68 L472.62 238.67 L473.48 238.66 L474.34 238.65 L475.2 238.64 L476.06 238.64 L476.92 238.63 L477.78 238.62 L478.64 238.61 L479.5 238.61 L480.36 238.6 L481.22 238.59 L482.08 238.59 L482.94 238.58 L483.8 238.58 L484.66 238.57 L485.52 238.57 L486.38 238.56 L487.24 238.56 L488.1 238.56 L488.96 238.55 L489.82 238.55 L490.68 238.54 L491.54 238.54 L492.4 238.54 L493.26 238.53 L494.12 238.53 L494.98 238.53 L495.84 238.53 L496.7 238.52 L497.56 238.52 L498.42 238.52 L499.28 238.52 L500.14 238.52 L501 238.51 L501.86 238.51 L502.72 238.51 L503.58 238.51 L504.44 238.51 L505.3 238.51 L506.16 238.5 L507.02 238.5 L507.88 238.5 L508.74 238.5 L509.6 238.5 L510.46 238.5 L511.32 238.5 L512.18 238.5 L513.04 238.49 L513.9 238.49 L514.76 238.49 L515.62 238.49 L516.48 238.49 L517.34 238.49 L518.2 238.49" fill="none" stroke="#1b1bc0" stroke-width="2.2" stroke-linejoin="round"/>
<clipPath id="ce"><rect x="567.0" y="197.5" width="128.60000000000002" height="104.69999999999999"/></clipPath>
<path d="M567 275.52 L567.17 274.08 L567.34 272.65 L567.51 271.22 L567.69 269.81 L567.86 268.42 L568.03 267.05 L568.2 265.7 L568.37 264.39 L568.54 263.11 L568.71 261.86 L568.89 260.64 L569.06 259.47 L569.23 258.33 L569.4 257.23 L569.57 256.17 L569.74 255.15 L569.91 254.16 L570.09 253.21 L570.26 252.3 L570.43 251.42 L570.6 250.57 L570.77 249.76 L570.94 248.98 L571.12 248.22 L571.29 247.5 L571.46 246.8 L571.63 246.13 L571.8 245.49 L571.97 244.87 L572.14 244.27 L572.32 243.7 L572.49 243.14 L572.66 242.61 L572.83 242.09 L573 241.59 L573.17 241.11 L573.34 240.64 L573.52 240.19 L573.69 239.75 L573.86 239.33 L574.03 238.92 L574.2 238.52 L574.37 238.14 L574.54 237.76 L574.72 237.4 L574.89 237.04 L575.06 236.7 L575.23 236.36 L575.4 236.04 L575.57 235.72 L575.74 235.41 L575.92 235.11 L576.09 234.81 L576.26 234.53 L576.43 234.25 L576.6 233.97 L576.77 233.7 L576.95 233.44 L577.12 233.18 L577.29 232.93 L577.46 232.68 L577.63 232.44 L577.8 232.2 L577.97 231.97 L578.15 231.74 L578.32 231.51 L578.49 231.29 L578.66 231.07 L578.83 230.86 L579 230.64 L579.17 230.44 L579.35 230.23 L579.52 230.03 L579.69 229.83 L579.86 229.63 L580.03 229.44 L580.2 229.25 L580.37 229.06 L580.55 228.87 L580.72 228.68 L580.89 228.5 L581.06 228.32 L581.23 228.14 L581.4 227.96 L581.57 227.78 L581.75 227.61 L581.92 227.44 L582.09 227.26 L582.26 227.09 L582.43 226.92 L582.6 226.75 L582.77 226.59 L582.95 226.42 L583.12 226.25 L583.29 226.09 L583.46 225.92 L583.63 225.76 L583.8 225.6 L583.98 225.44 L584.15 225.27 L584.32 225.11 L584.49 224.95 L584.66 224.79 L584.83 224.63 L585 224.47 L585.18 224.31 L585.35 224.15 L585.52 223.99 L585.69 223.83 L585.86 223.67 L586.03 223.51 L586.2 223.35 L586.38 223.19 L586.55 223.02 L586.72 222.86 L586.89 222.7 L587.06 222.54 L587.23 222.37 L587.4 222.21 L587.58 222.04 L587.75 221.88 L587.92 221.71 L588.09 221.54 L588.26 221.37 L588.43 221.2 L588.6 221.03 L588.78 220.86 L588.95 220.68 L589.12 220.51 L589.29 220.33 L589.46 220.15 L589.63 219.97 L589.81 219.79 L589.98 219.61 L590.15 219.42 L590.32 219.23 L590.49 219.04 L590.66 218.85 L590.83 218.65 L591.01 218.46 L591.18 218.26 L591.35 218.05 L591.52 217.85 L591.69 217.64 L591.86 217.42 L592.03 217.21 L592.21 216.99 L592.38 216.77 L592.55 216.54 L592.72 216.31 L592.89 216.07 L593.06 215.83 L593.23 215.59 L593.41 215.34 L593.58 215.09 L593.75 214.83 L593.92 214.56 L594.09 214.29 L594.26 214.01 L594.43 213.73 L594.61 213.44 L594.78 213.14 L594.95 212.84 L595.12 212.53 L595.29 212.21 L595.46 211.88 L595.63 211.54 L595.81 211.19 L595.98 210.84 L596.15 210.47 L596.32 210.09 L596.49 209.7 L596.66 209.3 L596.84 208.89 L597.01 208.46 L597.18 208.02 L597.35 207.56 L597.52 207.09 L597.69 206.6 L597.86 206.1 L598.04 205.57 L598.21 205.03 L598.38 204.47 L598.55 203.89 L598.72 203.28 L598.89 202.65 L599.06 202 L599.24 201.32 L599.41 200.62 L599.58 199.89 L599.75 199.12 L599.9 198.5" fill="none" stroke="#1b1bc0" stroke-width="2.2" stroke-linejoin="round" clip-path="url(#ce)"/>
<path d="M599.9 301.2 L600.05 300.42 L600.22 299.57 L600.39 298.69 L600.56 297.77 L600.74 296.82 L600.91 295.83 L601.08 294.8 L601.25 293.74 L601.42 292.63 L601.59 291.49 L601.76 290.32 L601.94 289.1 L602.11 287.85 L602.28 286.56 L602.45 285.25 L602.62 283.9 L602.79 282.53 L602.97 281.14 L603.14 279.72 L603.31 278.3 L603.48 276.86 L603.65 275.42 L603.82 273.98 L603.99 272.54 L604.17 271.12 L604.34 269.7 L604.51 268.31 L604.68 266.94 L604.85 265.6 L605.02 264.29 L605.19 263.01 L605.37 261.77 L605.54 260.56 L605.71 259.38 L605.88 258.25 L606.05 257.15 L606.22 256.09 L606.39 255.07 L606.57 254.09 L606.74 253.14 L606.91 252.23 L607.08 251.35 L607.25 250.51 L607.42 249.7 L607.59 248.92 L607.77 248.17 L607.94 247.45 L608.11 246.75 L608.28 246.09 L608.45 245.44 L608.62 244.82 L608.79 244.23 L608.97 243.65 L609.14 243.1 L609.31 242.57 L609.48 242.05 L609.65 241.55 L609.82 241.07 L610 240.61 L610.17 240.16 L610.34 239.72 L610.51 239.3 L610.68 238.89 L610.85 238.49 L611.02 238.11 L611.2 237.73 L611.37 237.37 L611.54 237.02 L611.71 236.67 L611.88 236.34 L612.05 236.01 L612.22 235.7 L612.4 235.39 L612.57 235.09 L612.74 234.79 L612.91 234.51 L613.08 234.22 L613.25 233.95 L613.42 233.68 L613.6 233.42 L613.77 233.16 L613.94 232.91 L614.11 232.66 L614.28 232.42 L614.45 232.18 L614.62 231.95 L614.8 231.72 L614.97 231.49 L615.14 231.27 L615.31 231.05 L615.48 230.84 L615.65 230.63 L615.83 230.42 L616 230.22 L616.17 230.01 L616.34 229.81 L616.51 229.62 L616.68 229.42 L616.85 229.23 L617.03 229.04 L617.2 228.86 L617.37 228.67 L617.54 228.49 L617.71 228.31 L617.88 228.13 L618.05 227.95 L618.23 227.77 L618.4 227.6 L618.57 227.42 L618.74 227.25 L618.91 227.08 L619.08 226.91 L619.25 226.74 L619.43 226.57 L619.6 226.41 L619.77 226.24 L619.94 226.08 L620.11 225.91 L620.28 225.75 L620.45 225.59 L620.63 225.42 L620.8 225.26 L620.97 225.1 L621.14 224.94 L621.31 224.78 L621.48 224.62 L621.65 224.46 L621.83 224.3 L622 224.14 L622.17 223.98 L622.34 223.82 L622.51 223.66 L622.68 223.5 L622.86 223.33 L623.03 223.17 L623.2 223.01 L623.37 222.85 L623.54 222.69 L623.71 222.52 L623.88 222.36 L624.06 222.2 L624.23 222.03 L624.4 221.86 L624.57 221.7 L624.74 221.53 L624.91 221.36 L625.08 221.19 L625.26 221.02 L625.43 220.85 L625.6 220.67 L625.77 220.5 L625.94 220.32 L626.11 220.14 L626.28 219.96 L626.46 219.78 L626.63 219.59 L626.8 219.41 L626.97 219.22 L627.14 219.03 L627.31 218.83 L627.48 218.64 L627.66 218.44 L627.83 218.24 L628 218.04 L628.17 217.83 L628.34 217.62 L628.51 217.41 L628.69 217.19 L628.86 216.97 L629.03 216.75 L629.2 216.52 L629.37 216.29 L629.54 216.06 L629.71 215.82 L629.89 215.57 L630.06 215.32 L630.23 215.07 L630.4 214.81 L630.57 214.54 L630.74 214.27 L630.91 213.99 L631.09 213.71 L631.26 213.42 L631.43 213.12 L631.6 212.82 L631.77 212.5 L631.94 212.18 L632.11 211.85 L632.29 211.51 L632.46 211.17 L632.63 210.81 L632.8 210.44 L632.97 210.06 L633.14 209.67 L633.31 209.27 L633.49 208.85 L633.66 208.43 L633.83 207.98 L634 207.53 L634.17 207.05 L634.34 206.56 L634.51 206.06 L634.69 205.53 L634.86 204.99 L635.03 204.43 L635.2 203.84 L635.37 203.23 L635.54 202.6 L635.72 201.95 L635.89 201.27 L636.06 200.56 L636.23 199.83 L636.4 199.07 L636.53 198.5" fill="none" stroke="#1b1bc0" stroke-width="2.2" stroke-linejoin="round" clip-path="url(#ce)"/>
<path d="M636.53 301.2 L636.68 300.46 L636.85 299.61 L637.02 298.73 L637.19 297.82 L637.37 296.87 L637.54 295.88 L637.71 294.85 L637.88 293.79 L638.05 292.69 L638.22 291.55 L638.39 290.38 L638.57 289.16 L638.74 287.91 L638.91 286.63 L639.08 285.31 L639.25 283.97 L639.42 282.6 L639.59 281.21 L639.77 279.79 L639.94 278.37 L640.11 276.93 L640.28 275.49 L640.45 274.05 L640.62 272.61 L640.79 271.19 L640.97 269.78 L641.14 268.38 L641.31 267.01 L641.48 265.67 L641.65 264.36 L641.82 263.07 L642 261.83 L642.17 260.62 L642.34 259.44 L642.51 258.3 L642.68 257.21 L642.85 256.14 L643.02 255.12 L643.2 254.14 L643.37 253.19 L643.54 252.27 L643.71 251.39 L643.88 250.55 L644.05 249.74 L644.22 248.96 L644.4 248.21 L644.57 247.48 L644.74 246.79 L644.91 246.12 L645.08 245.48 L645.25 244.86 L645.42 244.26 L645.6 243.68 L645.77 243.13 L645.94 242.59 L646.11 242.08 L646.28 241.58 L646.45 241.1 L646.62 240.63 L646.8 240.18 L646.97 239.74 L647.14 239.32 L647.31 238.91 L647.48 238.51 L647.65 238.13 L647.83 237.75 L648 237.39 L648.17 237.03 L648.34 236.69 L648.51 236.36 L648.68 236.03 L648.85 235.71 L649.03 235.4 L649.2 235.1 L649.37 234.81 L649.54 234.52 L649.71 234.24 L649.88 233.96 L650.05 233.7 L650.23 233.43 L650.4 233.17 L650.57 232.92 L650.74 232.67 L650.91 232.43 L651.08 232.19 L651.25 231.96 L651.43 231.73 L651.6 231.51 L651.77 231.28 L651.94 231.07 L652.11 230.85 L652.28 230.64 L652.45 230.43 L652.63 230.23 L652.8 230.02 L652.97 229.82 L653.14 229.63 L653.31 229.43 L653.48 229.24 L653.65 229.05 L653.83 228.86 L654 228.68 L654.17 228.5 L654.34 228.31 L654.51 228.13 L654.68 227.96 L654.86 227.78 L655.03 227.6 L655.2 227.43 L655.37 227.26 L655.54 227.09 L655.71 226.92 L655.88 226.75 L656.06 226.58 L656.23 226.42 L656.4 226.25 L656.57 226.08 L656.74 225.92 L656.91 225.76 L657.08 225.59 L657.26 225.43 L657.43 225.27 L657.6 225.11 L657.77 224.95 L657.94 224.79 L658.11 224.63 L658.28 224.47 L658.46 224.31 L658.63 224.15 L658.8 223.98 L658.97 223.82 L659.14 223.66 L659.31 223.5 L659.48 223.34 L659.66 223.18 L659.83 223.02 L660 222.86 L660.17 222.7 L660.34 222.53 L660.51 222.37 L660.69 222.2 L660.86 222.04 L661.03 221.87 L661.2 221.71 L661.37 221.54 L661.54 221.37 L661.71 221.2 L661.89 221.03 L662.06 220.85 L662.23 220.68 L662.4 220.5 L662.57 220.33 L662.74 220.15 L662.91 219.97 L663.09 219.79 L663.26 219.6 L663.43 219.42 L663.6 219.23 L663.77 219.04 L663.94 218.84 L664.11 218.65 L664.29 218.45 L664.46 218.25 L664.63 218.05 L664.8 217.84 L664.97 217.63 L665.14 217.42 L665.31 217.2 L665.49 216.98 L665.66 216.76 L665.83 216.53 L666 216.3 L666.17 216.07 L666.34 215.83 L666.51 215.58 L666.69 215.33 L666.86 215.08 L667.03 214.82 L667.2 214.56 L667.37 214.28 L667.54 214.01 L667.72 213.72 L667.89 213.43 L668.06 213.14 L668.23 212.83 L668.4 212.52 L668.57 212.2 L668.74 211.87 L668.92 211.53 L669.09 211.18 L669.26 210.83 L669.43 210.46 L669.6 210.08 L669.77 209.69 L669.94 209.29 L670.12 208.87 L670.29 208.45 L670.46 208.01 L670.63 207.55 L670.8 207.08 L670.97 206.59 L671.14 206.08 L671.32 205.56 L671.49 205.02 L671.66 204.45 L671.83 203.87 L672 203.27 L672.17 202.64 L672.34 201.98 L672.52 201.31 L672.69 200.6 L672.86 199.87 L673.03 199.11 L673.18 198.5" fill="none" stroke="#1b1bc0" stroke-width="2.2" stroke-linejoin="round" clip-path="url(#ce)"/>
<path d="M673.18 301.2 L673.33 300.4 L673.5 299.55 L673.67 298.67 L673.85 297.75 L674.02 296.79 L674.19 295.8 L674.36 294.78 L674.53 293.71 L674.7 292.61 L674.87 291.47 L675.05 290.29 L675.22 289.07 L675.39 287.82 L675.56 286.53 L675.73 285.22 L675.9 283.87 L676.07 282.5 L676.25 281.1 L676.42 279.69 L676.59 278.26 L676.76 276.82 L676.93 275.38 L677.1 273.94 L677.27 272.51 L677.45 271.08 L677.62 269.67 L677.79 268.28 L677.96 266.91 L678.13 265.57 L678.3 264.26 L678.47 262.98 L678.65 261.74 L678.82 260.53 L678.99 259.35 L679.16 258.22 L679.33 257.12 L679.5 256.07 L679.68 255.05 L679.85 254.06 L680.02 253.12 L680.19 252.21 L680.36 251.33 L680.53 250.49 L680.7 249.68 L680.88 248.9 L681.05 248.15 L681.22 247.43 L681.39 246.74 L681.56 246.07 L681.73 245.43 L681.9 244.81 L682.08 244.21 L682.25 243.64 L682.42 243.09 L682.59 242.55 L682.76 242.04 L682.93 241.54 L683.1 241.06 L683.28 240.59 L683.45 240.14 L683.62 239.71 L683.79 239.29 L683.96 238.88 L684.13 238.48 L684.3 238.1 L684.48 237.72 L684.65 237.36 L684.82 237.01 L684.99 236.67 L685.16 236.33 L685.33 236.01 L685.5 235.69 L685.68 235.38 L685.85 235.08 L686.02 234.79 L686.19 234.5 L686.36 234.22 L686.53 233.94 L686.71 233.68 L686.88 233.41 L687.05 233.16 L687.22 232.9 L687.39 232.66 L687.56 232.41 L687.73 232.18 L687.91 231.94 L688.08 231.71 L688.25 231.49 L688.42 231.27 L688.59 231.05 L688.76 230.84 L688.93 230.62 L689.11 230.42 L689.28 230.21 L689.45 230.01 L689.62 229.81 L689.79 229.61 L689.96 229.42 L690.13 229.23 L690.31 229.04 L690.48 228.85 L690.65 228.67 L690.82 228.48 L690.99 228.3 L691.16 228.12 L691.33 227.94 L691.51 227.77 L691.68 227.59 L691.85 227.42 L692.02 227.25 L692.19 227.08 L692.36 226.91 L692.54 226.74 L692.71 226.57 L692.88 226.4 L693.05 226.24 L693.22 226.07 L693.39 225.91 L693.56 225.74 L693.74 225.58 L693.91 225.42 L694.08 225.26 L694.25 225.1 L694.42 224.94 L694.59 224.77 L694.76 224.61 L694.94 224.45 L695.11 224.29 L695.28 224.13 L695.45 223.97 L695.6 223.83" fill="none" stroke="#1b1bc0" stroke-width="2.2" stroke-linejoin="round" clip-path="url(#ce)"/>
<rect x="389.2" y="198.5" width="129" height="102.7" fill="none" stroke="#4d4d4d" stroke-width="1.1"/>
<line x1="389.2" y1="275.52" x2="391.7" y2="275.52" stroke="#4d4d4d" stroke-width="1"/>
<line x1="518.2" y1="275.52" x2="515.7" y2="275.52" stroke="#4d4d4d" stroke-width="1"/>
<line x1="389.2" y1="249.85" x2="391.7" y2="249.85" stroke="#4d4d4d" stroke-width="1"/>
<line x1="518.2" y1="249.85" x2="515.7" y2="249.85" stroke="#4d4d4d" stroke-width="1"/>
<line x1="389.2" y1="224.18" x2="391.7" y2="224.18" stroke="#4d4d4d" stroke-width="1"/>
<line x1="518.2" y1="224.18" x2="515.7" y2="224.18" stroke="#4d4d4d" stroke-width="1"/>
<text x="389.2" y="316.8" font-size="12.7" text-anchor="middle" font-weight="normal" font-family='"Liberation Sans", sans-serif' >0</text>
<text x="518.2" y="316.8" font-size="12.7" text-anchor="middle" font-weight="normal" font-family='"Liberation Sans", sans-serif' >50</text>
<text x="383.3" y="203" font-size="12.7" text-anchor="end" font-family='"Liberation Sans", sans-serif'><tspan font-family='"Liberation Serif", serif' font-size="15.5">&#960;</tspan></text>
<text x="383.3" y="228.68" font-size="12.7" text-anchor="end" font-family='"Liberation Sans", sans-serif'><tspan font-family='"Liberation Serif", serif' font-size="15.5">&#960;</tspan>/2</text>
<text x="384.9" y="254.35" font-size="12.7" text-anchor="end" font-family='"Liberation Sans", sans-serif'>0</text>
<text x="383.3" y="280.02" font-size="12.7" text-anchor="end" font-family='"Liberation Sans", sans-serif'>&#8722;<tspan font-family='"Liberation Serif", serif' font-size="15.5">&#960;</tspan>/2</text>
<text x="383.3" y="305.7" font-size="12.7" text-anchor="end" font-family='"Liberation Sans", sans-serif'>&#8722;<tspan font-family='"Liberation Serif", serif' font-size="15.5">&#960;</tspan></text>
<text x="453.7" y="333.6" font-size="14.4" text-anchor="middle" font-weight="normal" font-family='"Liberation Sans", sans-serif' >Time</text>
<rect x="567" y="198.5" width="128.6" height="102.7" fill="none" stroke="#4d4d4d" stroke-width="1.1"/>
<line x1="609.87" y1="301.2" x2="609.87" y2="298.7" stroke="#4d4d4d" stroke-width="1"/>
<line x1="609.87" y1="198.5" x2="609.87" y2="201" stroke="#4d4d4d" stroke-width="1"/>
<line x1="652.73" y1="301.2" x2="652.73" y2="298.7" stroke="#4d4d4d" stroke-width="1"/>
<line x1="652.73" y1="198.5" x2="652.73" y2="201" stroke="#4d4d4d" stroke-width="1"/>
<line x1="567" y1="275.52" x2="569.5" y2="275.52" stroke="#4d4d4d" stroke-width="1"/>
<line x1="695.6" y1="275.52" x2="693.1" y2="275.52" stroke="#4d4d4d" stroke-width="1"/>
<line x1="567" y1="249.85" x2="569.5" y2="249.85" stroke="#4d4d4d" stroke-width="1"/>
<line x1="695.6" y1="249.85" x2="693.1" y2="249.85" stroke="#4d4d4d" stroke-width="1"/>
<line x1="567" y1="224.18" x2="569.5" y2="224.18" stroke="#4d4d4d" stroke-width="1"/>
<line x1="695.6" y1="224.18" x2="693.1" y2="224.18" stroke="#4d4d4d" stroke-width="1"/>
<text x="567" y="316.8" font-size="12.7" text-anchor="middle" font-weight="normal" font-family='"Liberation Sans", sans-serif' >0</text>
<text x="609.87" y="316.8" font-size="12.7" text-anchor="middle" font-weight="normal" font-family='"Liberation Sans", sans-serif' >50</text>
<text x="652.73" y="316.8" font-size="12.7" text-anchor="middle" font-weight="normal" font-family='"Liberation Sans", sans-serif' >100</text>
<text x="695.6" y="316.8" font-size="12.7" text-anchor="middle" font-weight="normal" font-family='"Liberation Sans", sans-serif' >150</text>
<text x="561.1" y="203" font-size="12.7" text-anchor="end" font-family='"Liberation Sans", sans-serif'><tspan font-family='"Liberation Serif", serif' font-size="15.5">&#960;</tspan></text>
<text x="561.1" y="228.68" font-size="12.7" text-anchor="end" font-family='"Liberation Sans", sans-serif'><tspan font-family='"Liberation Serif", serif' font-size="15.5">&#960;</tspan>/2</text>
<text x="562.7" y="254.35" font-size="12.7" text-anchor="end" font-family='"Liberation Sans", sans-serif'>0</text>
<text x="561.1" y="280.02" font-size="12.7" text-anchor="end" font-family='"Liberation Sans", sans-serif'>&#8722;<tspan font-family='"Liberation Serif", serif' font-size="15.5">&#960;</tspan>/2</text>
<text x="561.1" y="305.7" font-size="12.7" text-anchor="end" font-family='"Liberation Sans", sans-serif'>&#8722;<tspan font-family='"Liberation Serif", serif' font-size="15.5">&#960;</tspan></text>
<text x="631.3" y="333.6" font-size="14.4" text-anchor="middle" font-weight="normal" font-family='"Liberation Sans", sans-serif' >Time</text>
<text transform="translate(346.5,249.4) rotate(-90)" font-size="14.4" text-anchor="middle" font-family='"Liberation Sans", sans-serif'>Relative phase (&#968;)</text></svg>
</body></html>
